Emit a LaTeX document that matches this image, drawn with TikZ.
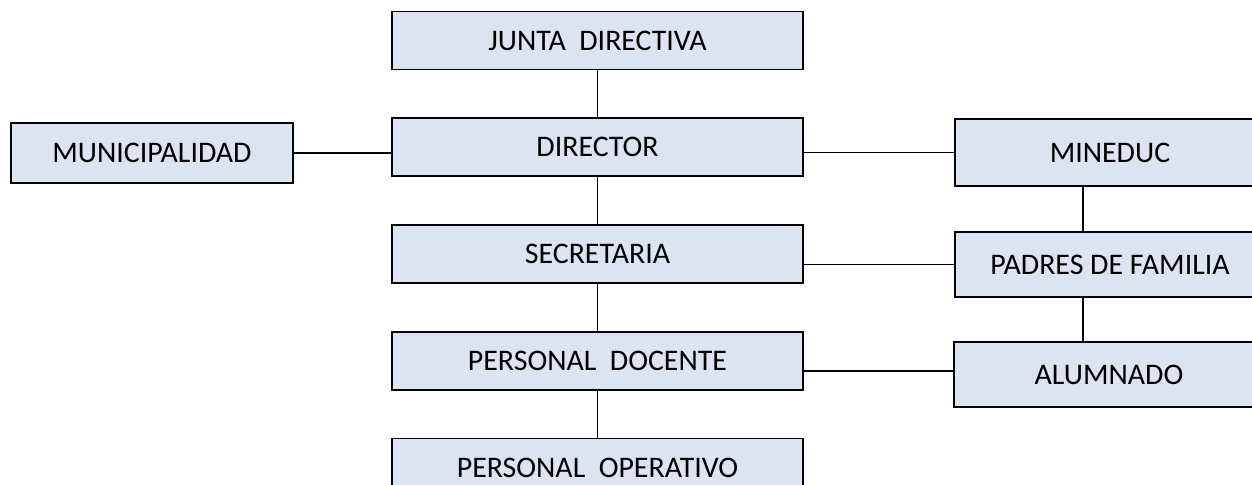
\documentclass[tikz,border=0pt]{standalone}
\usepackage{fontspec}
\setmainfont{Carlito}
\usetikzlibrary{positioning}
\definecolor{boxfill}{HTML}{DBE4F0}

\begin{document}
\begin{tikzpicture}[x=0.02cm, y=-0.02cm,
    unit/.style={draw=black, line width=1pt, fill=boxfill, minimum height=1.16cm,
        inner sep=0pt, font=\fontsize{17}{20}\selectfont},
    wide/.style={unit, minimum width=8.22cm},
    side/.style={unit, minimum width=6.2cm, minimum height=1.3cm},
    link/.style={line width=1pt},
    node distance=0.94cm]
    \useasboundingbox (0,0) rectangle (1252,484);
    \clip (0,0) rectangle (1252,484);

    % central column
    \node[wide] (junta) at (597.5,40.5) {JUNTA\ \ DIRECTIVA};
    \node[wide] (director) [below=of junta] {DIRECTOR};
    \node[wide] (secretaria) [below=of director] {SECRETARIA};
    \node[wide] (docente) [below=of secretaria] {PERSONAL\ \ DOCENTE};
    \node[wide] (operativo) [below=of docente] {PERSONAL\ \ OPERATIVO};

    % sides
    \node[unit, minimum width=5.64cm, minimum height=1.2cm] (muni) at (152,153) {MUNICIPALIDAD};
    \node[side, minimum height=1.34cm] (mineduc) at (1110,152.5) {MINEDUC};
    \node[side] (padres) at (1110,264.5) {PADRES DE FAMILIA};
    \node[side] (alumnado) at (1109,374.5) {ALUMNADO};
    \coordinate (rv) at (1083,0);

    \draw[link]
    (junta) -- (director)
    (director) -- (secretaria)
    (secretaria) -- (docente)
    (docente) -- (operativo)
    (muni.east) -- (muni.east -| director.west)
    (director.east |- mineduc.west) -- (mineduc.west)
    (secretaria.east |- padres.west) -- (padres.west)
    ([yshift=-0.2cm]docente.east) -- ([yshift=-0.2cm]docente.east -| alumnado.west)
    (mineduc.south -| rv) -- (padres.north -| rv)
    (padres.south -| rv) -- (alumnado.north -| rv)
    ;
\end{tikzpicture}
\end{document}
